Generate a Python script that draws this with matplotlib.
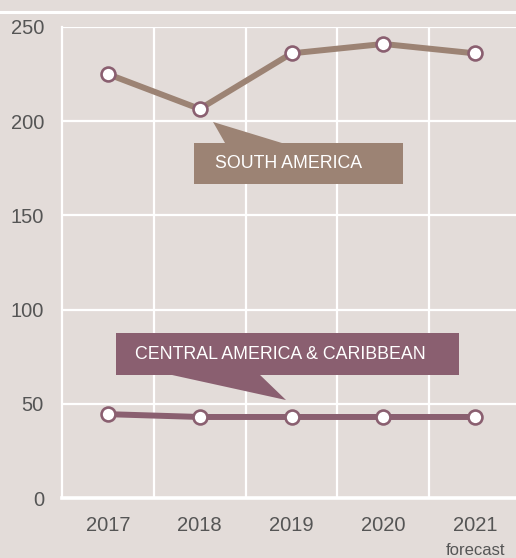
import matplotlib
matplotlib.use("Agg")
import matplotlib.pyplot as plt
from matplotlib.patches import Polygon, Rectangle
from matplotlib.lines import Line2D

years = ["2017", "2018", "2019", "2020", "2021"]
south_america = [225, 206.5, 236, 241, 236]
central_america = [44.5, 43, 43, 43, 43]
y_ticks = [0, 50, 100, 150, 200, 250]

bg = "#e3dcd9"
col_south = "#9c8374"
col_central = "#8a5f70"
txt_grey = "#555555"
plt.rcParams["font.family"] = ["Liberation Sans", "DejaVu Sans"]

fig = plt.figure(figsize=(5.16, 5.58), dpi=100)
fig.patch.set_facecolor(bg)
ax = fig.add_axes([62 / 516, 60 / 558, 454 / 516, 471 / 558])
ax.set_facecolor(bg)

x = list(range(len(years)))
ax.set_xlim(-0.5, 4.445)
ax.set_ylim(0, 250)

# grid (white), vertical lines sit between the categories
for gx in [0.5, 1.5, 2.5, 3.5]:
    ax.axvline(gx, color="white", lw=1.6, zorder=1)
for gy in y_ticks[1:]:
    ax.axhline(gy, color="white", lw=1.6, zorder=1)

for s in ["top", "right"]:
    ax.spines[s].set_visible(False)
ax.spines["left"].set_color("white")
ax.spines["left"].set_linewidth(1.6)
ax.spines["bottom"].set_color("white")
ax.spines["bottom"].set_linewidth(2.6)

ax.set_xticks(x)
ax.set_xticklabels(years)
ax.set_yticks(y_ticks)
ax.tick_params(axis="both", length=0, labelsize=14.5, labelcolor=txt_grey)
ax.tick_params(axis="y", pad=13)
ax.tick_params(axis="x", pad=13)
ax.text(4, -0.112, "forecast", transform=ax.get_xaxis_transform(),
        ha="center", va="center", fontsize=12, color=txt_grey)

# series
for vals, c in [(south_america, col_south), (central_america, col_central)]:
    ax.plot(x, vals, color=c, lw=4.3, zorder=3, solid_capstyle="butt")
    ax.plot(x, vals, ls="none", marker="o", ms=10, mfc="white",
            mec=col_central, mew=1.9, zorder=4)

# callout labels
ax.add_patch(Rectangle((0.938, 166.7), 2.277, 21.7, color=col_south, zorder=5, lw=0))
ax.add_patch(Polygon([(1.276, 188.4), (1.145, 199.6), (1.897, 188.4)],
                     closed=True, color=col_south, zorder=5, lw=0))
ax.text(1.167, 177.3, "SOUTH AMERICA", color="white", fontsize=12.8,
        ha="left", va="center", zorder=6)

ax.add_patch(Rectangle((0.088, 65.3), 3.737, 22.3, color=col_central, zorder=5, lw=0))
ax.add_patch(Polygon([(0.698, 65.3), (1.94, 52), (1.657, 65.3)],
                     closed=True, color=col_central, zorder=5, lw=0))
ax.text(0.295, 76.4, "CENTRAL AMERICA & CARIBBEAN", color="white", fontsize=12.8,
        ha="left", va="center", zorder=6)

# white rule near the top edge
fig.add_artist(Line2D([0, 1], [1 - 11.5 / 558] * 2, transform=fig.transFigure,
                      color="white", lw=2.2))

fig.savefig("out.png", dpi=100, facecolor=bg)
